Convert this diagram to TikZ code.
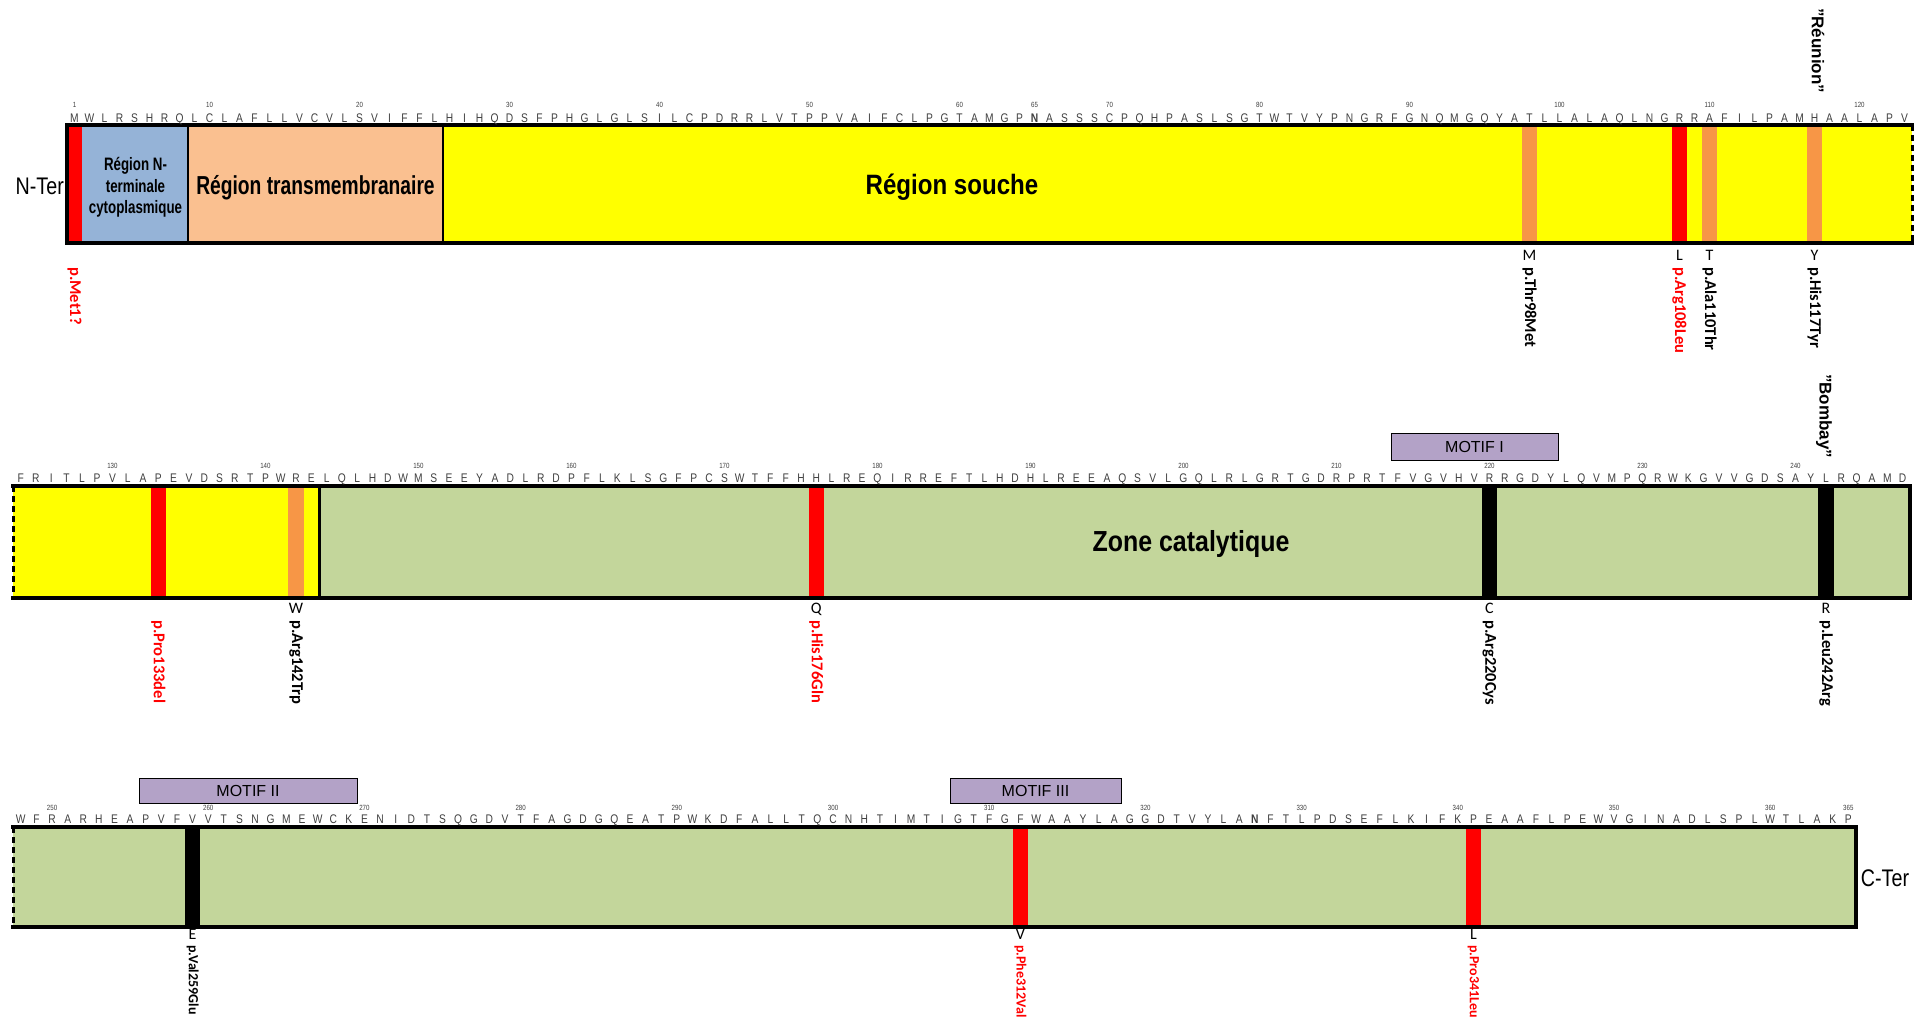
\documentclass[tikz,border=0pt]{standalone}
\usepackage{fontspec}
\setmainfont{Liberation Sans}
\newfontfamily\narrowfont[FakeStretch=0.82]{Liberation Sans}
\newfontfamily\xnarrowfont[FakeStretch=0.74]{Liberation Sans}
\newfontfamily\mednarrowfont[FakeStretch=0.86]{Liberation Sans}
\newfontfamily\calfont{Carlito}
\definecolor{seqgray}{HTML}{404040}
\definecolor{nblue}{HTML}{95B3D7}
\definecolor{peach}{HTML}{FAC090}
\definecolor{mutorange}{HTML}{F79646}
\definecolor{zgreen}{HTML}{C3D69B}
\definecolor{motif}{HTML}{B3A2C7}
\definecolor{myred}{HTML}{FF0000}
\definecolor{myyellow}{HTML}{FFFF00}
\tikzset{
  res/.style={font=\narrowfont\fontsize{12.5}{12.5}\selectfont, text=seqgray, inner sep=0pt, anchor=base},
  num/.style={font=\narrowfont\fontsize{7.5}{8}\selectfont, text=seqgray, inner sep=0pt, anchor=base},
  mutlet/.style={font=\calfont\fontsize{16}{16}\selectfont, inner sep=0pt, anchor=base},
  mutlab/.style={font=\calfont\bfseries\fontsize{16.5}{16.5}\selectfont, rotate=-90, anchor=west, inner sep=0pt},
  mutlabsmall/.style={font=\calfont\bfseries\fontsize{14}{14}\selectfont, rotate=-90, anchor=west, inner sep=0pt},
  motifbox/.style={draw=black, fill=motif, line width=1pt, inner sep=0pt, font=\fontsize{16}{16}\selectfont},
  border/.style={line width=3.5pt, line cap=rect},
  dashedge/.style={line width=3pt, dash pattern=on 6pt off 4pt},
  sepline/.style={line width=2.5pt},
  bigtext/.style={font=\mednarrowfont\bfseries\fontsize{28}{28}\selectfont, inner sep=0pt, anchor=base},
  popname/.style={font=\bfseries\fontsize{17}{17}\selectfont, rotate=-90, anchor=west, inner sep=0pt},
  terlab/.style={font=\narrowfont\fontsize{24}{24}\selectfont, inner sep=0pt, anchor=base},
  ntlab/.style={font=\xnarrowfont\bfseries\fontsize{18}{18}\selectfont, inner sep=0pt, anchor=base}
}
\begin{document}
\begin{tikzpicture}[x=1pt,y=-1pt]
\useasboundingbox (0,0) rectangle (1930,1022);
\fill[white] (0,0) rectangle (1930,1022);

% ================= ROW 1 =================
\fill[myyellow] (443,125) rectangle (1912,243);
\fill[peach] (188,125) rectangle (443,243);
\fill[nblue] (67,125) rectangle (188,243);
\fill[myred] (67,125) rectangle (82,243);
\foreach \n/\c in {98/mutorange,108/myred,110/mutorange,117/mutorange}
  \fill[\c] ({67+(\n-1)*15},125) rectangle ++(15,118);
\draw[sepline] (188,125) -- (188,243);
\draw[sepline] (443,125) -- (443,243);
\draw[border] (1912,125) -- (67,125) -- (67,243) -- (1912,243);
\draw[dashedge] (1912,125) -- (1912,243);

\foreach \c [count=\i from 1] in {M,W,L,R,S,H,R,Q,L,C,L,A,F,L,L,V,C,V,L,S,V,I,F,F,L,H,I,H,Q,D,S,F,P,H,G,L,G,L,S,I,L,C,P,D,R,R,L,V,T,P,P,V,A,I,F,C,L,P,G,T,A,M,G,P,{\bfseries N},A,S,S,S,C,P,Q,H,P,A,S,L,S,G,T,W,T,V,Y,P,N,G,R,F,G,N,Q,M,G,Q,Y,A,T,L,L,A,L,A,Q,L,N,G,R,R,A,F,I,L,P,A,M,H,A,A,L,A,P,V}
  \node[res] (sa\i) at ({67+(\i-0.5)*15},122.5) {\c};
\foreach \n in {1,10,20,30,40,50,60,65,70,80,90,100,110,120}
  \node[num] (na\n) at ({67+(\n-0.5)*15},108) {\n};

\node[terlab, anchor=base east] (nter) at (64,194) {N-Ter};
\node[ntlab] (nt1) at (135.5,170) {Région N-};
\node[ntlab] (nt2) at (135.5,192) {terminale};
\node[ntlab] (nt3) at (135.5,213) {cytoplasmique};
\node[font=\xnarrowfont\bfseries\fontsize{26}{26}\selectfont, inner sep=0pt, anchor=base] (tm) at (315.5,194) {Région transmembranaire};
\node[bigtext] (souche) at (952,194) {Région souche};
\node[popname] (reunion) at (1818,8) {"Réunion"};

\foreach \n/\ml/\lab/\col in {1//p.Met1?/myred,98/M/p.Thr98Met/black,108/L/p.Arg108Leu/myred,110/T/p.Ala110Thr/black,117/Y/p.His117Tyr/black}{
  \node[mutlet] (ma\n) at ({67+(\n-0.5)*15},260) {\ml};
  \node[mutlab, text=\col] (la\n) at ({67+(\n-0.5)*15},267) {\lab};
}

% ================= ROW 2 =================
\fill[zgreen] (319.6,486) rectangle (1910,598);
\fill[myyellow] (13,486) rectangle (319.6,598);
\foreach \n/\c in {133/myred,142/mutorange,176/myred,220/black,242/black}
  \fill[\c] ({13+(\n-124)*15.3},486) rectangle ++(15.3,112);
\draw[sepline] (319.6,486) -- (319.6,598);
\draw[border] (13,486) -- (1910,486) -- (1910,598) -- (13,598);
\draw[dashedge] (13,486) -- (13,598);

\foreach \c [count=\i from 124] in {F,R,I,T,L,P,V,L,A,P,E,V,D,S,R,T,P,W,R,E,L,Q,L,H,D,W,M,S,E,E,Y,A,D,L,R,D,P,F,L,K,L,S,G,F,P,C,S,W,T,F,F,H,H,L,R,E,Q,I,R,R,E,F,T,L,H,D,H,L,R,E,E,A,Q,S,V,L,G,Q,L,R,L,G,R,T,G,D,R,P,R,T,F,V,G,V,H,V,R,R,G,D,Y,L,Q,V,M,P,Q,R,W,K,G,V,V,G,D,S,A,Y,L,R,Q,A,M,D}
  \node[res] (sb\i) at ({13+(\i-124+0.5)*15.3},482) {\c};
\foreach \n in {130,140,...,240}
  \node[num] (nb\n) at ({13+(\n-124+0.5)*15.3},468) {\n};

\node[motifbox, minimum width=167pt, minimum height=27pt] (motif1) at (1474.5,446.5) {MOTIF I};
\node[bigtext, font=\mednarrowfont\bfseries\fontsize{29}{29}\selectfont] (zone) at (1191,551) {Zone catalytique};
\node[popname] (bombay) at (1824,374) {"Bombay"};

\foreach \n/\ml/\lab/\col in {133//p.Pro133del/myred,142/W/p.Arg142Trp/black,176/Q/p.His176Gln/myred,220/C/p.Arg220Cys/black,242/R/p.Leu242Arg/black}{
  \node[mutlet] (mb\n) at ({13+(\n-124+0.5)*15.3},613) {\ml};
  \node[mutlab, text=\col] (lb\n) at ({13+(\n-124+0.5)*15.3},620) {\lab};
}

% ================= ROW 3 =================
\fill[zgreen] (13,827) rectangle (1856.2,927);
\foreach \n/\c in {259/black,312/myred,341/myred}
  \fill[\c] ({13+(\n-248)*15.62},827) rectangle ++(15.62,100);
\draw[border] (13,827) -- (1856.2,827) -- (1856.2,927) -- (13,927);
\draw[dashedge] (13,827) -- (13,927);

\foreach \c [count=\i from 248] in {W,F,R,A,R,H,E,A,P,V,F,V,V,T,S,N,G,M,E,W,C,K,E,N,I,D,T,S,Q,G,D,V,T,F,A,G,D,G,Q,E,A,T,P,W,K,D,F,A,L,L,T,Q,C,N,H,T,I,M,T,I,G,T,F,G,F,W,A,A,Y,L,A,G,G,D,T,V,Y,L,A,{\bfseries N},F,T,L,P,D,S,E,F,L,K,I,F,K,P,E,A,A,F,L,P,E,W,V,G,I,N,A,D,L,S,P,L,W,T,L,A,K,P}
  \node[res] (sc\i) at ({13+(\i-248+0.5)*15.62},823) {\c};
\foreach \n in {250,260,...,360,365}
  \node[num] (nc\n) at ({13+(\n-248+0.5)*15.62},810) {\n};

\node[motifbox, minimum width=218pt, minimum height=25pt] (motif2) at (248,790.5) {MOTIF II};
\node[motifbox, minimum width=171pt, minimum height=25pt] (motif3) at (1035.5,790.5) {MOTIF III};
\node[terlab] (cter) at (1885,886) {C-Ter};

\foreach \n/\ml/\lab/\col in {259/E/p.Val259Glu/black,312/V/p.Phe312Val/myred,341/L/p.Pro341Leu/myred}{
  \node[mutlet] (mc\n) at ({13+(\n-248+0.5)*15.62},939) {\ml};
  \node[mutlabsmall, text=\col] (lc\n) at ({13+(\n-248+0.5)*15.62},945) {\lab};
}
\end{tikzpicture}
\end{document}
